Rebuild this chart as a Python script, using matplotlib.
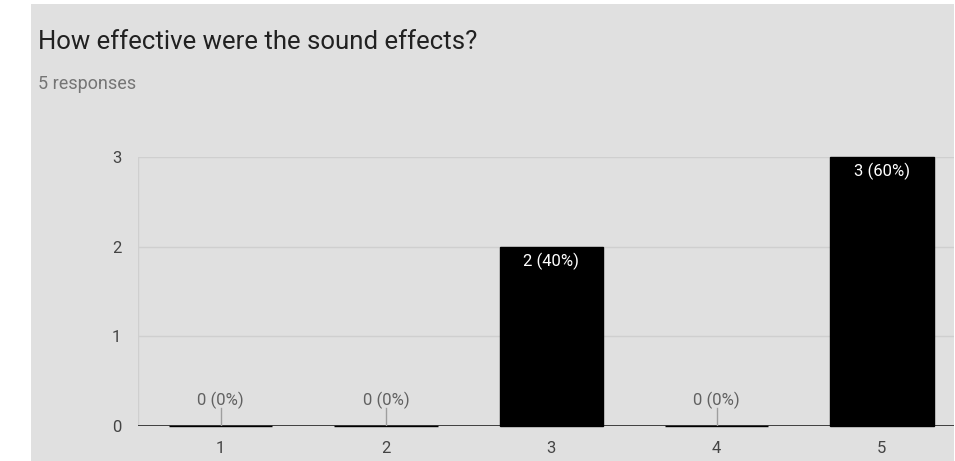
import matplotlib
matplotlib.use("Agg")
import matplotlib.pyplot as plt
from matplotlib.patches import Rectangle

plt.rcParams['font.family'] = ['Roboto', 'DejaVu Sans']

title = "How effective were the sound effects?"
subtitle = "5 responses"
categories = ["1", "2", "3", "4", "5"]
counts = [0, 0, 2, 0, 3]
total = 5
yticks = [0, 1, 2, 3]

W, H = 955, 461
fig = plt.figure(figsize=(W / 100, H / 100), dpi=100, facecolor="white")

# gray card behind the chart
fig.patches.append(Rectangle((31 / W, 0), (954 - 31) / W, (H - 4) / H,
                             transform=fig.transFigure, facecolor="#e0e0e0",
                             edgecolor="none", zorder=-10))

fig.text(38 / W, 1 - 42 / H, title, fontsize=18.5, color="#212121",
         va="center", ha="left")
fig.text(38 / W, 1 - 84 / H, subtitle, fontsize=13, color="#757575",
         va="center", ha="left")

left, right, top, bottom = 138, 954, 157, 426
band = 165.3
ax = fig.add_axes([left / W, (H - bottom) / H, (right - left) / W, (bottom - top) / H])
ax.set_facecolor("none")
ax.set_zorder(5)

x = list(range(1, len(categories) + 1))
ax.set_xlim(0.5, 0.5 + (right - left) / band)
ax.set_ylim(0, 3)

for y in yticks[1:]:
    ax.axhline(y, color="#cfcfcf", lw=1, zorder=1)
ax.axvline(0.5, color="#cfcfcf", lw=1, zorder=1)

bars = ax.bar(x, counts, width=0.625, color="black", edgecolor="black",
              linewidth=1, zorder=3, clip_on=False)
ax.axhline(0, color="#333333", lw=1.3, zorder=2)

for xi, c in zip(x, counts):
    label = f"{c} ({round(100 * c / total)}%)"
    if c > 0:
        ax.text(xi, c - 0.16, label, ha="center", va="center",
                color="white", fontsize=12, zorder=4)
    else:
        ax.plot([xi, xi], [0, 0.2], color="#9e9e9e", lw=1, zorder=4)
        ax.text(xi, 0.29, label, ha="center", va="center",
                color="#616161", fontsize=12, zorder=4)

ax.set_xticks(x)
ax.set_xticklabels(categories)
ax.set_yticks(yticks)
ax.tick_params(axis="both", length=0, labelsize=12, colors="#444444")
ax.tick_params(axis="x", pad=11)
ax.tick_params(axis="y", pad=12)
for s in ax.spines.values():
    s.set_visible(False)

fig.savefig("out.png", dpi=100, facecolor="white")
